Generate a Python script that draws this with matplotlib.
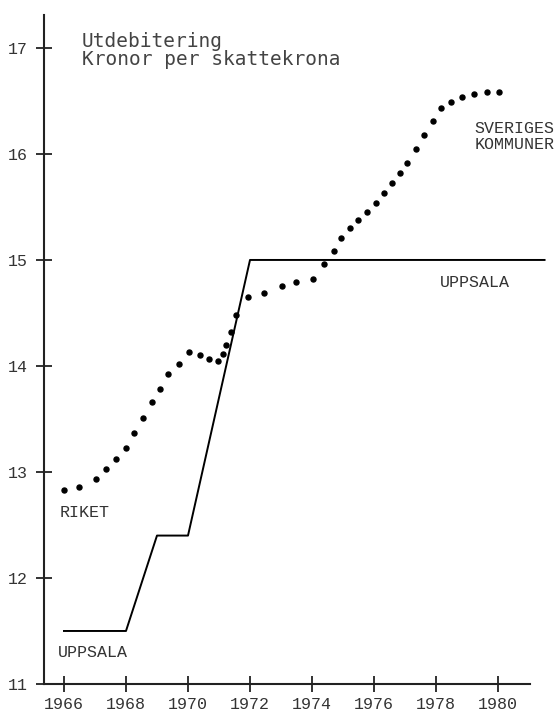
import matplotlib.pyplot as plt

# Utdebitering, kronor per skattekrona
years = [1966, 1968, 1970, 1972, 1974, 1976, 1978, 1980]
yticks = [11, 12, 13, 14, 15, 16, 17]

uppsala_x = [1966, 1968, 1969, 1970, 1972, 1981.5]
uppsala_y = [11.5, 11.5, 12.4, 12.4, 15.0, 15.0]

riket_x = [1966.0, 1966.47, 1967.03, 1967.35, 1967.68, 1968.0, 1968.26, 1968.55,
           1968.84, 1969.1, 1969.35, 1969.71, 1970.03, 1970.39, 1970.68, 1970.97,
           1971.13, 1971.23, 1971.39, 1971.55, 1971.94, 1972.45, 1973.03, 1973.48,
           1974.03, 1974.39, 1974.71, 1974.94, 1975.23, 1975.48, 1975.77, 1976.06,
           1976.32, 1976.58, 1976.84, 1977.06, 1977.35, 1977.61, 1977.9, 1978.16,
           1978.48, 1978.84, 1979.23, 1979.65, 1980.03]
riket_y = [12.83, 12.86, 12.93, 13.03, 13.12, 13.23, 13.37, 13.51,
           13.66, 13.78, 13.92, 14.02, 14.13, 14.10, 14.07, 14.05,
           14.11, 14.20, 14.32, 14.48, 14.65, 14.69, 14.75, 14.79,
           14.82, 14.96, 15.08, 15.21, 15.30, 15.38, 15.45, 15.54,
           15.63, 15.73, 15.82, 15.91, 16.05, 16.18, 16.31, 16.43,
           16.49, 16.54, 16.57, 16.58, 16.58]

mono = 'Liberation Mono'
ink = '#333333'

fig = plt.figure(figsize=(5.56, 7.13), dpi=100)
ax = fig.add_axes([0.0791, 0.0407, 0.8741, 0.9383])

ax.plot(uppsala_x, uppsala_y, color='black', linewidth=1.4, clip_on=False)
ax.plot(riket_x, riket_y, linestyle='none', marker='o', markersize=3.6,
        color='black', clip_on=False)

ax.set_xlim(1965.355, 1981.03)
ax.set_ylim(11, 17.311)

for s in ['top', 'right']:
    ax.spines[s].set_visible(False)
for s in ['left', 'bottom']:
    ax.spines[s].set_linewidth(1.5)
    ax.spines[s].set_color('#222222')

ax.set_xticks(years)
ax.set_yticks(yticks)
ax.set_xticklabels([str(y) for y in years], family=mono, fontsize=12, color=ink)
ax.set_yticklabels([str(y) for y in yticks], family=mono, fontsize=12, color=ink)
ax.tick_params(axis='both', direction='inout', length=11, width=1.3, colors='#222222')
ax.tick_params(axis='x', pad=4, labelcolor=ink)
ax.tick_params(axis='y', pad=6, labelcolor=ink)

ax.text(1966.58, 17.06, 'Utdebitering', family='DejaVu Sans Mono', fontsize=14,
        color='#444444', va='center')
ax.text(1966.58, 16.89, 'Kronor per skattekrona', family='DejaVu Sans Mono', fontsize=14,
        color='#444444', va='center')

ax.text(1979.23, 16.24, 'SVERIGES', family=mono, fontsize=12, color=ink, va='center',
        clip_on=False)
ax.text(1979.23, 16.09, 'KOMMUNER', family=mono, fontsize=12, color=ink, va='center',
        clip_on=False)
ax.text(1978.13, 14.79, 'UPPSALA', family=mono, fontsize=12, color=ink, va='center')
ax.text(1965.87, 12.62, 'RIKET', family=mono, fontsize=12, color=ink, va='center')
ax.text(1965.81, 11.30, 'UPPSALA', family=mono, fontsize=12, color=ink, va='center')

fig.savefig('out.png', dpi=100)
